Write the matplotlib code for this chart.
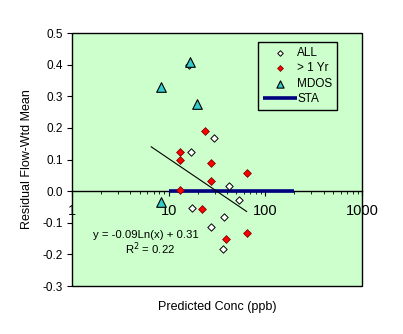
import matplotlib.pyplot as plt
from matplotlib.patches import Rectangle
import numpy as np

plt.rcParams['font.family'] = ['Liberation Sans', 'DejaVu Sans']

# Data
all_x = [16.1, 29.7, 17.0, 42.4, 53.0, 17.4, 37.7, 27.4, 36.2]
all_y = [0.398, 0.169, 0.124, 0.017, -0.028, -0.053, -0.081, -0.113, -0.184]

yr_x = [23.9, 13.2, 13.2, 27.2, 27.6, 64.1, 13.2, 21.9, 39.5, 64.1]
yr_y = [0.191, 0.124, 0.098, 0.090, 0.033, 0.058, 0.005, -0.056, -0.151, -0.132]

mdos_x = [16.8, 8.3, 19.5, 8.3]
mdos_y = [0.409, 0.330, 0.277, -0.034]

sta_x = [10, 200]
sta_y = [0, 0]

fit_a, fit_b = -0.09, 0.31
fit_range = [6.6, 64]

# Define figure
fig = plt.figure(figsize=(4.03, 3.34), dpi=100, facecolor="white")
ax = fig.add_axes([0.1787, 0.1437, 0.7196, 0.7574])
ax.set_facecolor("#CCFFCC")

# Series
ax.plot(sta_x, sta_y, color="#000080", lw=2.6, solid_capstyle="butt",
        label="STA", zorder=3)
fx = np.linspace(fit_range[0], fit_range[1], 100)
ax.plot(fx, fit_a * np.log(fx) + fit_b, color="black", lw=0.8, zorder=4)
ax.scatter(all_x, all_y, marker="D", s=14, facecolor="white",
           edgecolor="black", linewidth=0.7, label="ALL", zorder=5)
ax.scatter(yr_x, yr_y, marker="D", s=16, facecolor="red",
           edgecolor="#600000", linewidth=0.5, label="> 1 Yr", zorder=6)
ax.scatter(mdos_x, mdos_y, marker="^", s=48, facecolor="#33CCCC",
           edgecolor="black", linewidth=0.8, label="MDOS", zorder=7)

# Axes
ax.set_xscale("log")
ax.set_xlim(1, 1000)
ax.set_ylim(-0.3, 0.5)
ax.set_yticks(np.arange(-0.3, 0.51, 0.1))
ax.set_yticklabels(["-0.3", "-0.2", "-0.1", "0.0", "0.1", "0.2", "0.3", "0.4", "0.5"])
ax.set_xticks([1, 10, 100, 1000])
ax.set_xticklabels(["1", "10", "100", "1000"])
for s in ["top", "right", "left"]:
    ax.spines[s].set_visible(False)
ax.spines["bottom"].set_position(("data", 0))
ax.spines["bottom"].set_linewidth(1.0)
ax.tick_params(axis="x", which="major", direction="out", length=3.5, pad=5.5,
               labelsize=10.5)
ax.tick_params(axis="x", which="minor", direction="out", length=2.5)
ax.tick_params(axis="y", direction="out", length=3.5, labelsize=8.5, pad=3)
ax.add_patch(Rectangle((0, 0), 1, 1, transform=ax.transAxes, fill=False,
                       edgecolor="black", lw=1.0, clip_on=False, zorder=10))

ax.set_ylabel("Residual Flow-Wtd Mean", fontsize=9, labelpad=7)
fig.text(0.538, 0.08, "Predicted Conc (ppb)", ha="center", va="center", fontsize=9)

# Regression text
ax.text(0.255, 0.203, "y = -0.09Ln(x) + 0.31", transform=ax.transAxes,
        ha="center", va="center", fontsize=8.2)
ax.text(0.27, 0.147, "R$^2$ = 0.22", transform=ax.transAxes,
        ha="center", va="center", fontsize=8.2)

# Legend
handles, labels = ax.get_legend_handles_labels()
order = [1, 2, 3, 0]
leg = ax.legend([handles[i] for i in order], [labels[i] for i in order],
                loc="upper left", bbox_to_anchor=(0.641, 0.964),
                borderaxespad=0, fontsize=8.5, frameon=True, fancybox=False,
                edgecolor="black", facecolor="#CCFFCC", framealpha=1,
                markerscale=0.75, handlelength=2.9, handletextpad=0.05,
                borderpad=0.4, labelspacing=0.3)
leg.get_frame().set_linewidth(1.0)

fig.savefig("out.png", dpi=100)
